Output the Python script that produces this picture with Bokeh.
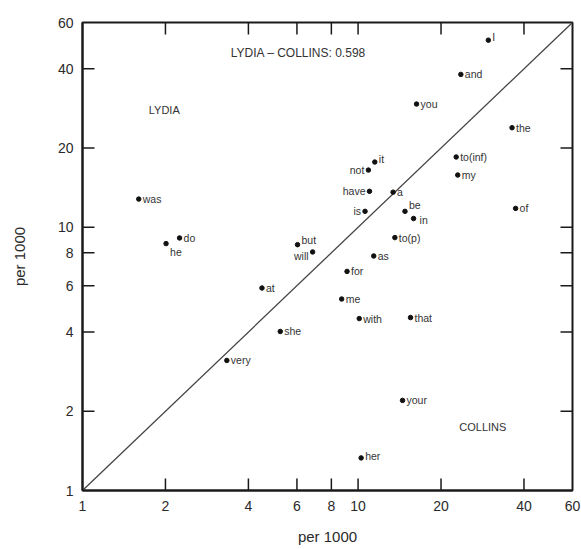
import math
from bokeh.plotting import figure
from bokeh.models import ColumnDataSource, Range1d, FixedTicker, Label
from bokeh.core.properties import value
from bokeh.embed import file_html
from bokeh.resources import INLINE

# word frequencies per 1000 words: COLLINS (x) vs LYDIA (y)
words = ["I", "and", "you", "the", "to(inf)", "my", "of", "a", "it", "not",
         "have", "is", "be", "in", "to(p)", "but", "will", "as", "for", "me",
         "with", "that", "she", "at", "very", "was", "do", "he", "your", "her"]
collins = [29.7, 23.6, 16.3, 36.2, 22.7, 23.0, 37.3, 13.4, 11.5, 10.9,
           11.0, 10.6, 14.8, 15.9, 13.6, 6.03, 6.84, 11.4, 9.12, 8.72,
           10.1, 15.5, 5.22, 4.48, 3.34, 1.60, 2.25, 2.01, 14.5, 10.26]
lydia = [51.4, 38.1, 29.4, 23.9, 18.5, 15.8, 11.8, 13.6, 17.7, 16.5,
         13.7, 11.5, 11.5, 10.8, 9.14, 8.59, 8.06, 7.78, 6.80, 5.34,
         4.50, 4.54, 4.02, 5.88, 3.12, 12.8, 9.11, 8.67, 2.20, 1.33]

lo, hi = 1, 60
diag = [lo, hi]
ticks = [1, 2, 4, 6, 8, 10, 20, 40, 60]
title_text = "LYDIA – COLLINS: 0.598"

# label placement (style): side and pixel nudges (screen px, +y is down)
left_words = {"not", "have", "is", "will"}
nudge_y = {"I": -3, "it": -3, "be": -6, "in": 1, "but": -5, "will": 4, "he": 8, "her": -2}
nudge_x = {"in": 2}

AX = "#1a1a1a"
TXT = "#333333"
FONT = "Liberation Sans"

p = figure(width=581, height=549, x_axis_type="log", y_axis_type="log",
           x_range=Range1d(lo, hi), y_range=Range1d(lo, hi),
           output_backend="svg", toolbar_location=None,
           min_border_left=82, min_border_right=9, min_border_top=22,
           min_border_bottom=59)
p.background_fill_color = None
p.border_fill_color = "#ffffff"
p.outline_line_color = AX
p.outline_line_width = 2
p.xgrid.visible = False
p.ygrid.visible = False

for ax in (p.xaxis[0], p.yaxis[0]):
    ax.ticker = FixedTicker(ticks=ticks)
    ax.major_tick_in = 0
    ax.major_tick_out = 0
    ax.minor_tick_in = 0
    ax.minor_tick_out = 0
    ax.axis_line_color = AX
    ax.axis_line_width = 2
    ax.major_label_text_font = FONT
    ax.major_label_text_color = "#2a2a2a"
    ax.major_label_text_font_size = "14px"
    ax.axis_label = "per 1000"
    ax.axis_label_text_font = FONT
    ax.axis_label_text_font_size = "15px"
    ax.axis_label_text_font_style = "normal"
    ax.axis_label_text_color = "#2a2a2a"
p.xaxis[0].major_label_standoff = 10
p.yaxis[0].major_label_standoff = 9
p.xaxis[0].axis_label_standoff = 14
p.yaxis[0].axis_label_standoff = 27

# inward tick marks on all four sides (dash markers clipped by the frame)
inner = ticks[1:-1]
n = len(inner)
p.scatter([lo] * n + [hi] * n, inner + inner, marker="dash", size=24,
          line_color=AX, line_width=1.5)
p.scatter(inner + inner, [lo] * n + [hi] * n, marker="dash", size=24,
          angle=math.pi / 2, line_color=AX, line_width=1.5)

p.line(diag, diag, line_color="#444444", line_width=1.3)

src = ColumnDataSource(dict(x=collins, y=lydia, w=words,
                            dx=[(-4 if w in left_words else 4) + nudge_x.get(w, 0) for w in words],
                            dy=[nudge_y.get(w, 0) for w in words],
                            al=["right" if w in left_words else "left" for w in words]))
p.scatter("x", "y", source=src, size=4.5, color="#111111")
p.text("x", "y", text="w", source=src, x_offset="dx", y_offset="dy",
       text_align="al", text_baseline="middle",
       text_font=value(FONT), text_font_size="10.5px", text_color=TXT)

p.add_layout(Label(x=3.45, y=45.9, text=title_text, text_font=FONT,
                   text_font_size="12px", text_color=TXT, text_baseline="middle"))
p.add_layout(Label(x=1.74, y=27.9, text="LYDIA", text_font=FONT,
                   text_font_size="11px", text_color=TXT, text_baseline="middle"))
p.add_layout(Label(x=23.3, y=1.75, text="COLLINS", text_font=FONT,
                   text_font_size="11px", text_color=TXT, text_baseline="middle"))

open("out.html", "w").write(file_html(p, INLINE))
